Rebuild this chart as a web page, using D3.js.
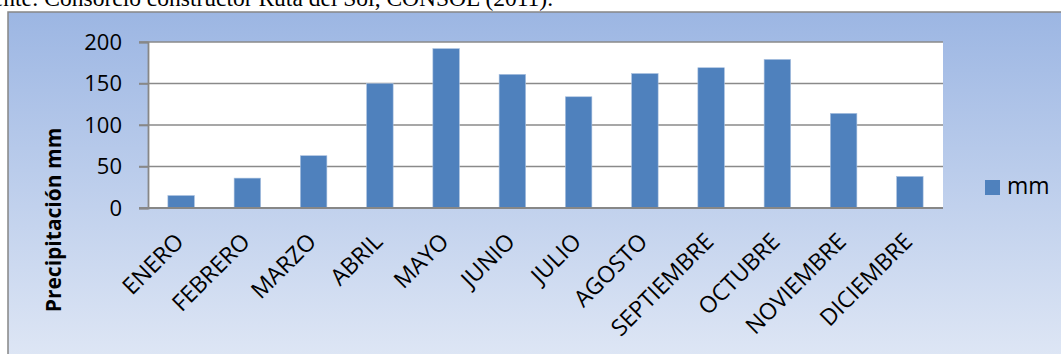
<!DOCTYPE html>
<html>
<head>
<meta charset="utf-8">
<script src="https://cdn.jsdelivr.net/npm/d3@7"></script>
<style>
  html, body { margin: 0; padding: 0; background: #ffffff; overflow: hidden; }
  svg { display: block; }
</style>
</head>
<body>
<script>
// Monthly precipitation (mm)
const months = ["ENERO", "FEBRERO", "MARZO", "ABRIL", "MAYO", "JUNIO", "JULIO",
                "AGOSTO", "SEPTIEMBRE", "OCTUBRE", "NOVIEMBRE", "DICIEMBRE"];
const precipitation = [15, 36, 63, 150, 192, 161, 134, 162, 169, 179, 114, 38];
const yTicks = [0, 50, 100, 150, 200];
const seriesName = "mm";
const yTitle = "Precipitación mm";
const sourceNote = "Fuente: Consorcio constructor Ruta del Sol, CONSOL (2011).";

const W = 1061, H = 354;
const frame = { x: 8, y: 12 };
const plot = { left: 148, right: 943, top: 42, bottom: 208 };
const font = "'Open Sans', 'Noto Sans', sans-serif";

const svg = d3.select("body").append("svg")
  .attr("width", W).attr("height", H);

// background gradient of the chart frame
const defs = svg.append("defs");
const grad = defs.append("linearGradient")
  .attr("id", "bg").attr("x1", 0).attr("y1", 0).attr("x2", 0).attr("y2", 1);
grad.append("stop").attr("offset", "0%").attr("stop-color", "#9cb6e3");
grad.append("stop").attr("offset", "100%").attr("stop-color", "#dfe7f5");

// source line above the chart (partly clipped by the page edge)
svg.append("text")
  .attr("x", -32).attr("y", 6)
  .attr("font-family", "'Liberation Serif', 'Times New Roman', serif")
  .attr("font-size", 23.5)
  .attr("fill", "#000")
  .text(sourceNote);

svg.append("rect")
  .attr("x", frame.x).attr("y", frame.y)
  .attr("width", W - frame.x + 10).attr("height", H - frame.y + 10)
  .attr("fill", "url(#bg)")
  .attr("stroke", "#878787").attr("stroke-width", 1.5);

// plot area
svg.append("rect")
  .attr("x", plot.left).attr("y", plot.top)
  .attr("width", plot.right - plot.left).attr("height", plot.bottom - plot.top)
  .attr("fill", "#ffffff");

const x = d3.scaleBand()
  .domain(months)
  .range([plot.left, plot.right])
  .paddingInner(0.6).paddingOuter(0.3);

const y = d3.scaleLinear()
  .domain([0, 200])
  .range([plot.bottom, plot.top]);

// gridlines
svg.append("g")
  .selectAll("line")
  .data(yTicks.filter(d => d > 0))
  .join("line")
  .attr("x1", plot.left - 9).attr("x2", plot.right)
  .attr("y1", d => y(d)).attr("y2", d => y(d))
  .attr("stroke", "#8a8a8a").attr("stroke-width", 1.6);

// bars
svg.append("g")
  .selectAll("rect")
  .data(precipitation)
  .join("rect")
  .attr("x", (d, i) => x(months[i]))
  .attr("y", d => y(d))
  .attr("width", x.bandwidth())
  .attr("height", d => y(0) - y(d))
  .attr("fill", "#4f81bd")
  .attr("stroke", "#a9c0df").attr("stroke-width", 0.6);

// y axis
const yAxis = d3.axisLeft(y).tickValues(yTicks).tickSize(9).tickPadding(17);
const gy = svg.append("g")
  .attr("transform", `translate(${plot.left},0)`)
  .call(yAxis);
gy.select(".domain").attr("stroke", "#878787").attr("stroke-width", 1.8);
gy.selectAll(".tick line").attr("stroke", "#878787").attr("stroke-width", 1.6);
gy.selectAll(".tick text")
  .attr("font-family", font).attr("font-size", 22).attr("fill", "#000");

// x axis baseline
svg.append("line")
  .attr("x1", plot.left - 9).attr("x2", plot.right)
  .attr("y1", y(0)).attr("y2", y(0))
  .attr("stroke", "#878787").attr("stroke-width", 1.8);

// category labels, rotated
const xc = d => x(d) + x.bandwidth() / 2;
svg.append("g")
  .selectAll("text")
  .data(months)
  .join("text")
  .attr("transform", d => `translate(${xc(d) + 4},${plot.bottom + 35}) rotate(-45)`)
  .attr("text-anchor", "end")
  .attr("font-family", font).attr("font-size", 23).attr("fill", "#000")
  .text(d => d);

// y axis title
svg.append("text")
  .attr("transform", `translate(61,220) rotate(-90)`)
  .attr("text-anchor", "middle")
  .attr("font-family", font).attr("font-size", 21).attr("font-weight", "bold")
  .attr("fill", "#000")
  .text(yTitle);

// legend
const lg = svg.append("g").attr("transform", "translate(985,180)");
lg.append("rect").attr("width", 15).attr("height", 15).attr("fill", "#4f81bd");
lg.append("text")
  .attr("x", 22).attr("y", 14)
  .attr("font-family", font).attr("font-size", 23).attr("fill", "#000")
  .text(seriesName);
</script>
</body>
</html>
